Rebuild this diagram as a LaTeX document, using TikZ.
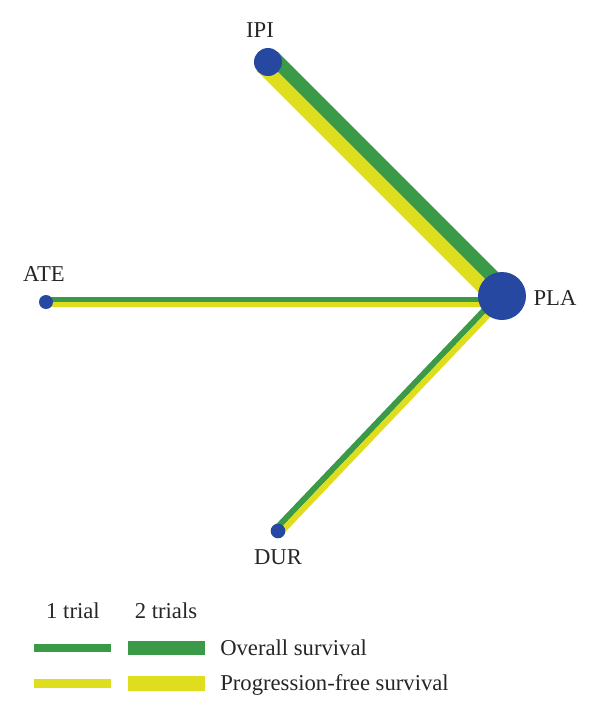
\documentclass[tikz,border=0pt]{standalone}
\usepackage{fontspec}
\setmainfont{Liberation Serif}
\usetikzlibrary{calc,backgrounds}
\definecolor{ogreen}{RGB}{58,154,72}
\definecolor{pyellow}{RGB}{222,222,30}
\definecolor{nblue}{RGB}{38,72,160}
\tikzset{
  dot/.style={circle, fill=nblue, inner sep=0pt, minimum size=#1},
  lbl/.style={font=\fontsize{17}{20}\selectfont, text=black!85, inner sep=0pt},
  osline/.style={ogreen, line width=#1},
  pfline/.style={pyellow, line width=#1},
}
\begin{document}
\begin{tikzpicture}[x=0.75pt, y=-0.75pt]
\useasboundingbox (0,0) rectangle (600,719);
% nodes
\node[dot=21pt] (IPI) at (268,62) {};
\node[dot=36pt] (PLA) at (502,296) {};
\node[dot=10.5pt] (ATE) at (46,302) {};
\node[dot=11pt] (DUR) at (278,531) {};
% labels
\node[lbl] (tIPI) at (260,30.5) {IPI};
\node[lbl] (tPLA) at (555,298) {PLA};
\node[lbl] (tATE) at (44,274) {ATE};
\node[lbl] (tDUR) at (278,557) {DUR};
\coordinate (PLAa) at (ATE.center -| PLA.center);
% edges
\begin{pgfonlayer}{background}
\draw[osline=10.5pt] ($(IPI.center)!5.25pt!90:(PLA.center)$) -- ($(PLA.center)!5.25pt!-90:(IPI.center)$);
\draw[pfline=10.5pt] ($(IPI.center)!5.25pt!-90:(PLA.center)$) -- ($(PLA.center)!5.25pt!90:(IPI.center)$);
\draw[osline=4pt] ($(ATE.center)!2pt!90:(PLAa)$) -- ($(PLAa)!2pt!-90:(ATE.center)$);
\draw[pfline=4pt] ($(ATE.center)!2pt!-90:(PLAa)$) -- ($(PLAa)!2pt!90:(ATE.center)$);
\draw[osline=4.5pt] ($(DUR.center)!2.25pt!90:(PLA.center)$) -- ($(PLA.center)!2.25pt!-90:(DUR.center)$);
\draw[pfline=4.5pt] ($(DUR.center)!2.25pt!-90:(PLA.center)$) -- ($(PLA.center)!2.25pt!90:(DUR.center)$);
\end{pgfonlayer}
% legend
\node[lbl, anchor=base] (l1) at (73,618) {1 trial};
\node[lbl, anchor=base] (l2) at (166,618) {2 trials};
\fill[ogreen] (34,644) rectangle (111,652);
\fill[ogreen] (128,641) rectangle (205,655);
\fill[pyellow] (34,679) rectangle (111,687.5);
\fill[pyellow] (128,676) rectangle (205,690.5);
\node[lbl, anchor=base west] (los) at (220,655) {Overall survival};
\node[lbl, anchor=base west] (lpf) at (220,690) {Progression-free survival};
\end{tikzpicture}
\end{document}
